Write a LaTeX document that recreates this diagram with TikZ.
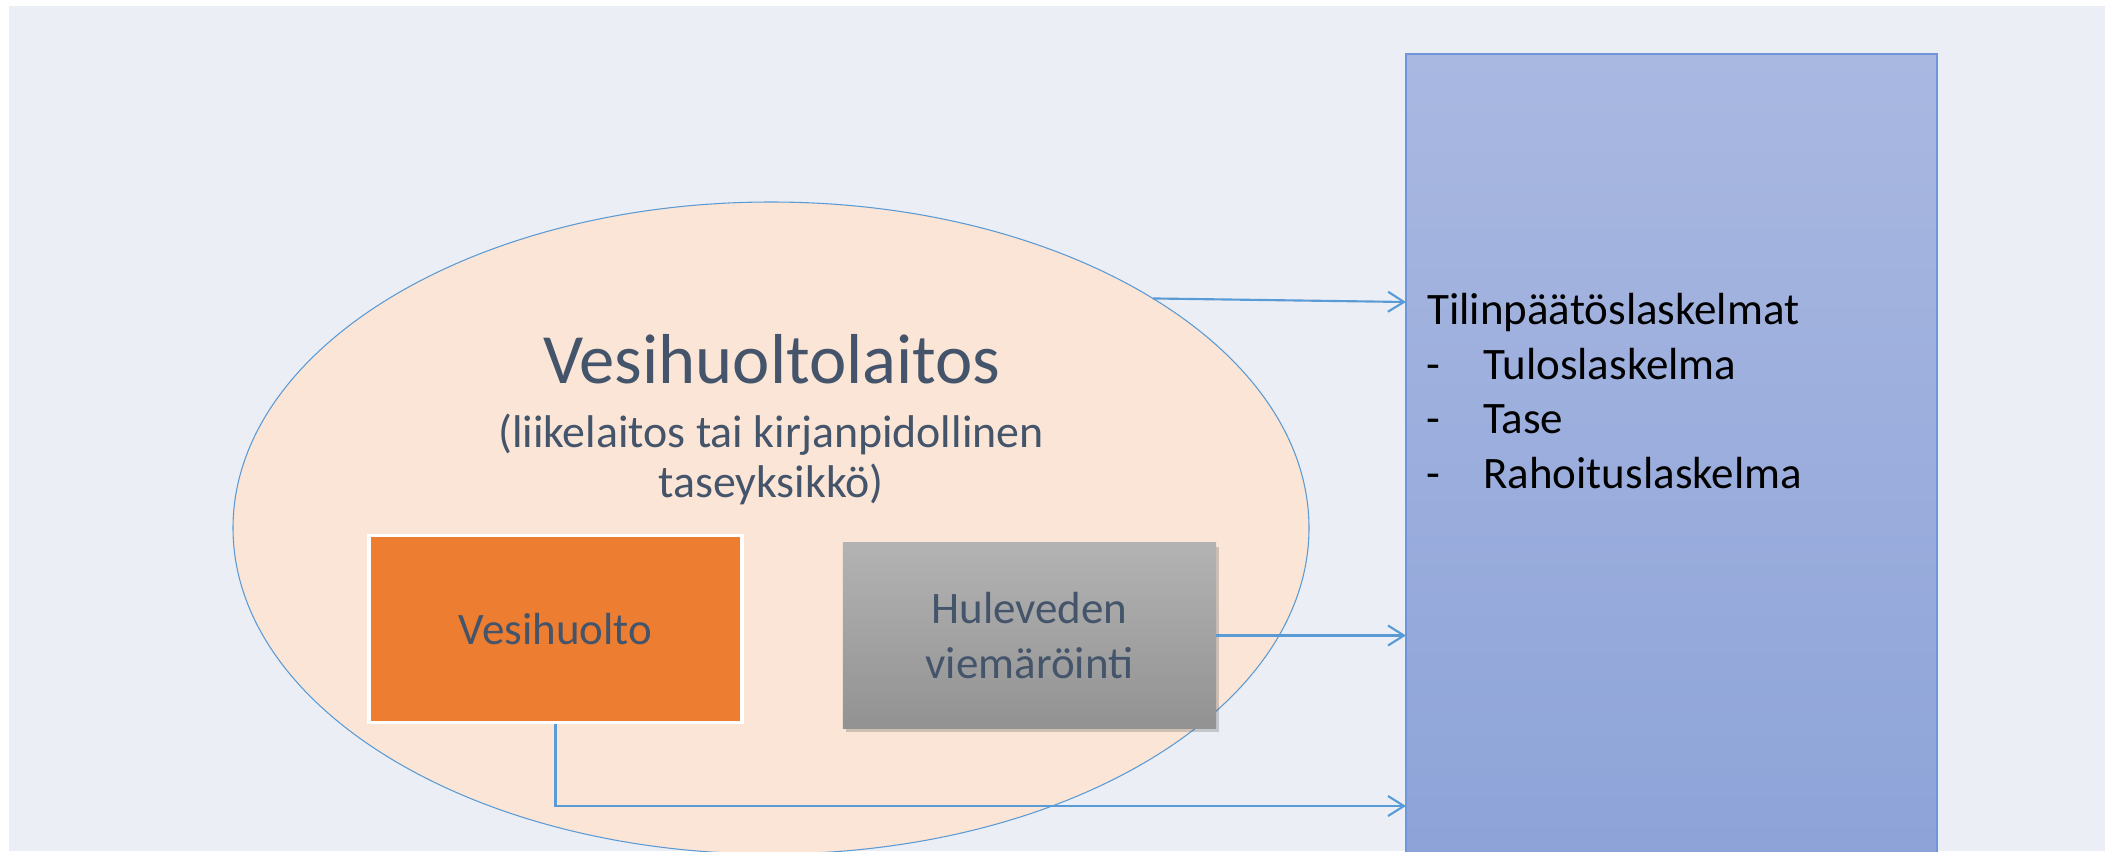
\documentclass[tikz,border=0pt]{standalone}
\usepackage{fontspec}
\setmainfont{Carlito}
\usetikzlibrary{arrows.meta,shapes.geometric,shadows}
\definecolor{bgc}{RGB}{235,239,245}
\definecolor{peach}{RGB}{251,229,214}
\definecolor{lineblue}{RGB}{91,155,213}
\definecolor{txt}{RGB}{68,84,106}
\definecolor{orng}{RGB}{237,125,49}
\definecolor{bluetop}{RGB}{169,184,225}
\definecolor{bluebot}{RGB}{141,163,216}
\definecolor{blueedge}{RGB}{112,150,218}
\definecolor{graytop}{RGB}{179,179,179}
\definecolor{graybot}{RGB}{146,146,146}
\begin{document}
\begin{tikzpicture}[x=0.75pt,y=-0.75pt,
  arr/.style={draw=lineblue, line width=1.6pt, -{Straight Barb[length=12pt,width=15pt]}},
  bigtitle/.style={font=\fontsize{53}{63}\selectfont, text=txt, anchor=base, inner sep=0pt},
  subtitle/.style={font=\fontsize{34.4}{41}\selectfont, text=txt, anchor=base, inner sep=0pt},
  righttext/.style={font=\fontsize{33.75}{41}\selectfont, text=black, anchor=base west, inner sep=0pt},
  boxtext/.style={font=\fontsize{33.75}{41.25}\selectfont, text=txt, align=center, inner sep=0pt}]
\useasboundingbox (0,0) rectangle (2114,851);
\clip (0,0) rectangle (2114,851);
\fill[white] (0,0) rectangle (2114,851);
\fill[bgc] (9,6) rectangle (2105,851);
% right panel
\node[rectangle, draw=blueedge, line width=1pt, top color=bluetop, bottom color=bluebot,
      minimum width=398.25pt, minimum height=612pt, inner sep=0pt, outer sep=0pt] (blue) at (1671.5,462) {};
% ellipse
\node[ellipse, draw=lineblue, fill=peach, line width=0.8pt, minimum width=807pt, minimum height=489pt,
      inner sep=0pt, outer sep=0pt] (ell) at (771,528) {};
% titles
\node[bigtitle] (title) at (772,383) {Vesihuoltolaitos};
\node[subtitle] (sub1) at (771,447) {(liikelaitos tai kirjanpidollinen};
\node[subtitle] (sub2) at (771,497) {taseyksikkö)};
% boxes
\node[rectangle, draw=white, line width=2.6pt, fill=orng, minimum width=280pt, minimum height=140pt,
      inner sep=0pt, boxtext] (orange) at (555.5,629) {Vesihuolto};
\node[rectangle, top color=graytop, bottom color=graybot, minimum width=280pt, minimum height=139pt,
      inner sep=0pt, boxtext, drop shadow={shadow xshift=2pt, shadow yshift=-3pt, opacity=0.25, fill=black!70}]
      (gray) at (1029.5,635.5) {Huleveden\\viemäröinti};
% right texts
\node[righttext] (rt0) at (1427,324) {Tilinpäätöslaskelmat};
\node[righttext] (d1) at (1426,379) {-};
\node[righttext] (rt1) at (1483,379) {Tuloslaskelma};
\node[righttext] (d2) at (1426,433.5) {-};
\node[righttext] (rt2) at (1483,433.5) {Tase};
\node[righttext] (d3) at (1426,488) {-};
\node[righttext] (rt3) at (1483,488) {Rahoituslaskelma};
% connectors
\coordinate (ya) at (0,302);
\coordinate (yc) at (0,806);
\draw[arr] (ell.31) -- (blue.west |- ya);
\draw[arr] (gray.east) -- (gray.east -| blue.west);
\draw[arr] (orange.south) |- (blue.west |- yc);
\end{tikzpicture}
\end{document}
